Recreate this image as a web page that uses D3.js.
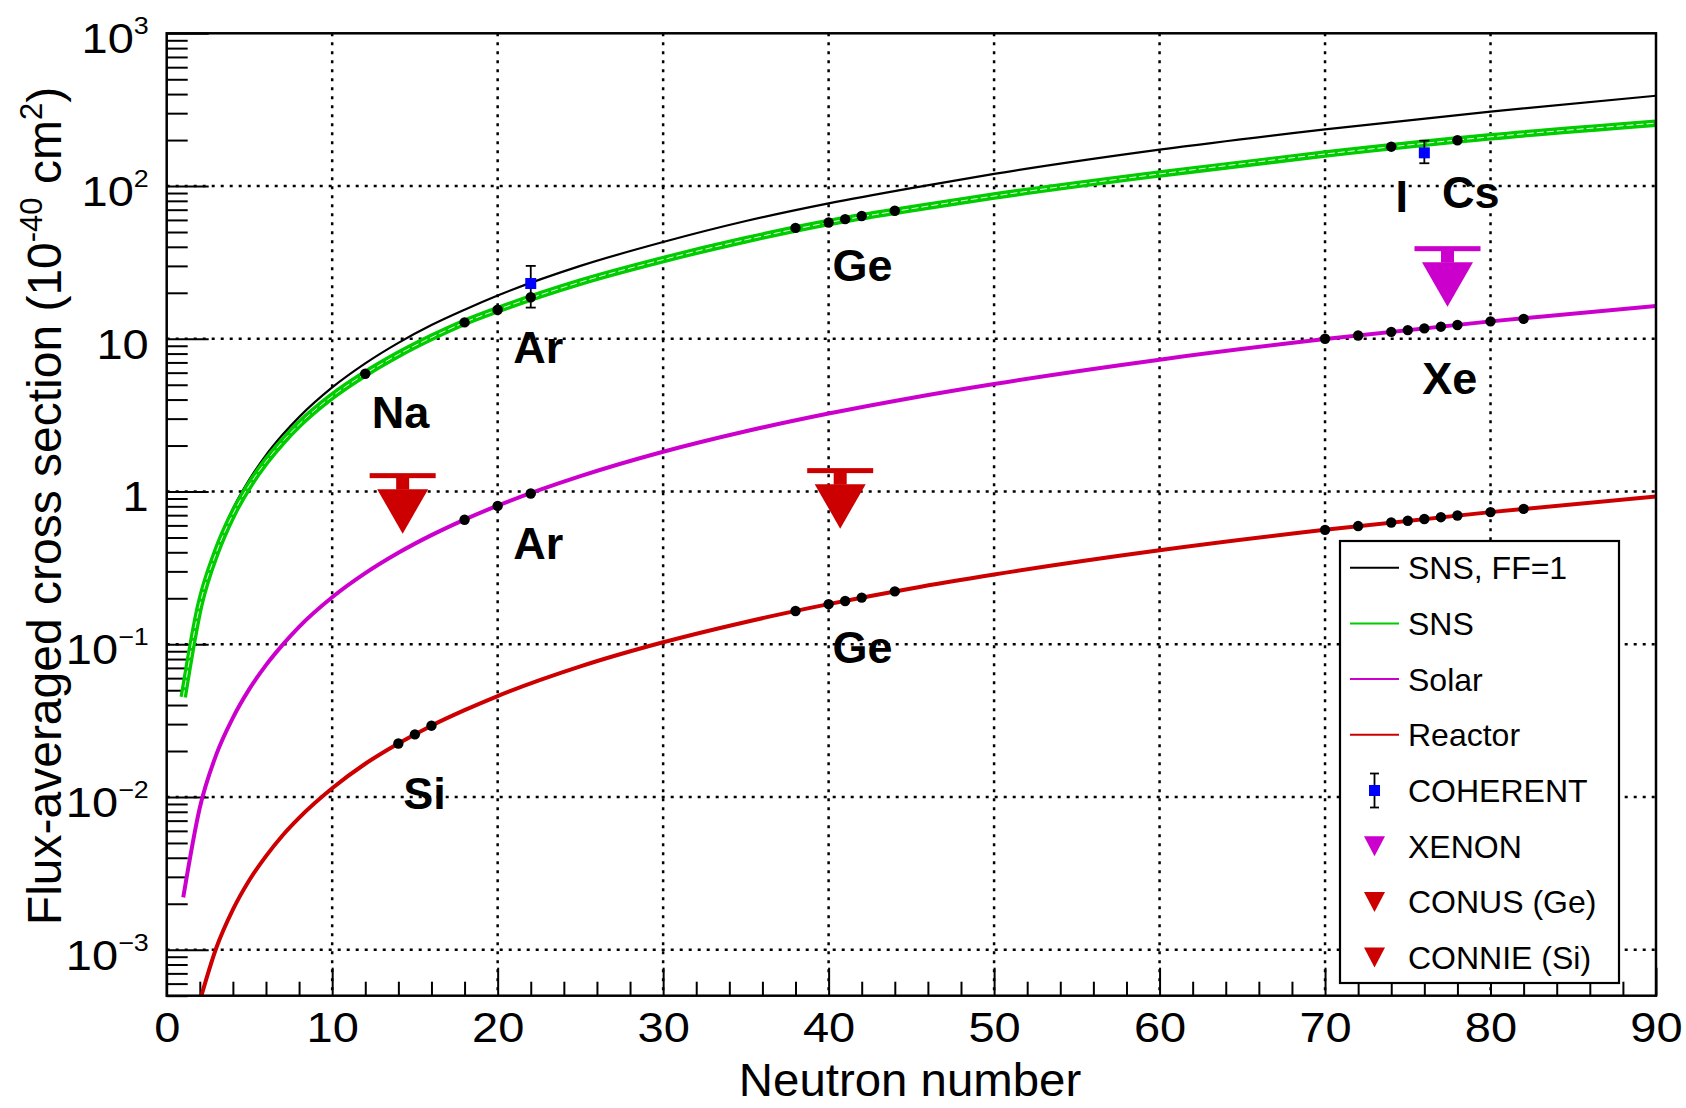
<!DOCTYPE html>
<html>
<head>
<meta charset="utf-8">
<script src="https://cdn.jsdelivr.net/npm/d3@7"></script>
<style>
  body { margin: 0; background: #fff; }
  text { font-family: "Liberation Sans", Arial, Helvetica, sans-serif; }
</style>
</head>
<body>
<div id="chart"></div>
<script>
// Flux-averaged CEvNS cross section vs neutron number

// curve samples (neutron number, cross section in 1e-40 cm2)
const curveN = [1, 2, 3, 4, 5, 6, 7, 8, 10, 12, 14, 16, 18, 20, 25, 30, 35, 40, 45, 50, 60, 70, 80, 90];
const snsFF1 = [0.048, 0.19, 0.43, 0.77, 1.2, 1.73, 2.35, 3.07, 4.8, 6.9, 9.4, 12.3, 15.5, 19.2, 30, 43, 59, 77, 97, 120, 173, 235, 307, 390];
const snsFF = [0.045, 0.18, 0.40, 0.71, 1.1, 1.57, 2.12, 2.75, 4.2, 5.9, 7.9, 10.2, 12.8, 15.5, 23.5, 33, 44.5, 57.7, 71, 86, 120, 162, 210, 258];
const solar = [0.0022, 0.0085, 0.019, 0.033, 0.051, 0.073, 0.099, 0.13, 0.203, 0.292, 0.397, 0.518, 0.655, 0.808, 1.26, 1.82, 2.48, 3.24, 4.1, 5.06, 7.3, 9.95, 13.0, 16.4];
const reactorN = [2, 3, 4, 5, 6, 7, 8, 10, 12, 14, 16, 18, 20, 25, 30, 35, 40, 45, 50, 60, 70, 80, 90];
const reactor = [0.00046, 0.00103, 0.00183, 0.00286, 0.0041, 0.0056, 0.0073, 0.0114, 0.0165, 0.0224, 0.0293, 0.037, 0.0458, 0.0716, 0.103, 0.14, 0.183, 0.232, 0.286, 0.412, 0.561, 0.733, 0.927];

// isotope points on the curves
const snsDotN = [12, 18, 20, 22, 38, 40, 41, 42, 44, 74, 78];
const snsDotV = [5.9, 12.8, 15.5, 18.7, 53.2, 57.7, 60.7, 63.7, 68.9, 181, 199.5];
const solarDotN = [18, 20, 22, 70, 72, 74, 75, 76, 77, 78, 80, 82];
const solarDotV = [0.653, 0.805, 0.97, 10.0, 10.5, 11.1, 11.4, 11.7, 12.0, 12.3, 13.0, 13.5];
const reactorDotN = [14, 15, 16, 38, 40, 41, 42, 44, 70, 72, 74, 75, 76, 77, 78, 80, 82];
const reactorDotV = [0.0224, 0.0257, 0.0293, 0.165, 0.183, 0.192, 0.202, 0.222, 0.561, 0.594, 0.627, 0.644, 0.661, 0.679, 0.697, 0.733, 0.770];

// COHERENT measurements (Ar, CsI)
const cohN = [22, 76];
const cohV = [23, 165];
const cohLo = [16, 141];
const cohHi = [30, 198];

// upper limits
const limitNames = ["XENON", "CONUS (Ge)", "CONNIE (Si)"];
const limitN = [77.4, 40.7, 14.26];
const limitV = [38.9, 1.37, 1.27];

// isotope labels
const labelText = ["Na", "Ar", "Ar", "Ge", "Ge", "I", "Cs", "Xe", "Si"];
const labelN = [12.39, 20.94, 20.94, 40.24, 40.24, 74.26, 77.07, 75.87, 14.3];
const labelV = [2.6, 6.92, 0.361, 23.9, 0.0757, 67.7, 71.9, 4.36, 0.00838];

const xMajor = [0, 10, 20, 30, 40, 50, 60, 70, 80, 90];
const yMajor = [1e-3, 1e-2, 1e-1, 1, 10, 100, 1000];
const legendLabels = ["SNS, FF=1", "SNS", "Solar", "Reactor", "COHERENT", "XENON", "CONUS (Ge)", "CONNIE (Si)"];

const W = 1686, H = 1108;
const GREEN = "#00cc00", MAGENTA = "#cc00cc", RED = "#cc0000", BLUE = "#0000ff";

const x = d3.scaleLinear().domain([0, 90]).range([166.7, 1656]);
const y = d3.scaleLog().domain([5e-4, 1e3]).range([995.7, 33.3]);

const svg = d3.select("#chart").append("svg")
    .attr("width", W)
    .attr("height", H)
    .style("background", "#fff");

svg.append("defs").append("clipPath").attr("id", "plotclip")
  .append("rect")
    .attr("x", x(0)).attr("y", y(1e3))
    .attr("width", x(90) - x(0)).attr("height", y(5e-4) - y(1e3));

// grid
const grid = svg.append("g");
grid.selectAll("line.vg")
  .data(xMajor.filter(d => d > 0 && d < 90))
  .join("line")
    .attr("x1", d => x(d)).attr("x2", d => x(d))
    .attr("y1", y(1e3)).attr("y2", y(5e-4))
    .attr("stroke", "#000").attr("stroke-width", 2.5).attr("stroke-dasharray", "3,6");
grid.selectAll("line.hg")
  .data(yMajor.filter(d => d < 1000))
  .join("line")
    .attr("x1", x(0)).attr("x2", x(90))
    .attr("y1", d => y(d)).attr("y2", d => y(d))
    .attr("stroke", "#000").attr("stroke-width", 2.5).attr("stroke-dasharray", "3,6");

// axes
const xMinor = x.ticks(45).filter(d => d % 10 !== 0);
svg.append("g")
    .attr("transform", `translate(0,${y(5e-4)})`)
    .call(d3.axisBottom(x).tickValues(xMinor).tickSizeInner(-14).tickSizeOuter(0).tickFormat(""))
    .call(g => g.select(".domain").remove())
    .selectAll("line").attr("stroke-width", 2);
const xAxisG = svg.append("g")
    .attr("transform", `translate(0,${y(5e-4)})`)
    .call(d3.axisBottom(x).tickValues(xMajor).tickSizeInner(-28).tickSizeOuter(0).tickPadding(16));
xAxisG.select(".domain").remove();
xAxisG.selectAll("line").attr("stroke-width", 2);
xAxisG.selectAll("text")
    .attr("font-size", 42)
    .attr("font-family", "Liberation Sans, Arial, sans-serif")
    .attr("fill", "#000")
    .attr("transform", "scale(1.12,1)");

const yMinor = y.ticks().filter(d => !yMajor.some(m => Math.abs(m - d) / m < 1e-6));
svg.append("g")
    .attr("transform", `translate(${x(0)},0)`)
    .call(d3.axisLeft(y).tickValues(yMinor).tickSizeInner(-21).tickSizeOuter(0).tickFormat(""))
    .call(g => g.select(".domain").remove())
    .selectAll("line").attr("stroke-width", 2);
const yAxisG = svg.append("g")
    .attr("transform", `translate(${x(0)},0)`)
    .call(d3.axisLeft(y).tickValues(yMajor).tickSizeInner(-42).tickSizeOuter(0).tickPadding(16));
yAxisG.select(".domain").remove();
yAxisG.selectAll("line").attr("stroke-width", 2);
yAxisG.selectAll("text")
    .attr("font-size", 42)
    .attr("font-family", "Liberation Sans, Arial, sans-serif")
    .attr("fill", "#000")
    .attr("dy", "0.46em")
    .attr("transform", "scale(1.12,1)")
    .each(function(d) {
      const t = d3.select(this).text(null);
      const e = Math.round(Math.log10(d));
      if (e === 0) { t.text("1"); return; }
      if (e === 1) { t.text("10"); return; }
      t.append("tspan").text("10");
      t.append("tspan").attr("dy", -19).attr("font-size", 24)
        .text(e < 0 ? "\u2212" + (-e) : String(e));
    });

// axis titles
svg.append("text")
    .attr("x", 910).attr("y", 1096)
    .attr("text-anchor", "middle")
    .attr("font-size", 46)
    .attr("transform", "translate(910,0) scale(1.03,1) translate(-910,0)")
    .text("Neutron number");

const yTitle = svg.append("text")
    .attr("transform", "translate(61,506) rotate(-90)")
    .attr("text-anchor", "middle")
    .attr("font-size", 48);
yTitle.append("tspan").text("Flux-averaged cross section (10");
yTitle.append("tspan").attr("dy", -19).attr("font-size", 31).text("-40");
yTitle.append("tspan").attr("dy", 19).text(" cm");
yTitle.append("tspan").attr("dy", -19).attr("font-size", 31).text("2");
yTitle.append("tspan").attr("dy", 19).text(")");

// curves
const plot = svg.append("g").attr("clip-path", "url(#plotclip)");
const line = d3.line()
    .x(d => x(d[0]))
    .y(d => y(d[1]))
    .curve(d3.curveMonotoneX);

plot.append("path")
    .datum(curveN.map((n, i) => [n, snsFF1[i]]))
    .attr("d", line).attr("fill", "none").attr("stroke", "#000").attr("stroke-width", 2.2);
const snsPts = curveN.map((n, i) => [n, snsFF[i]]);
plot.append("path")
    .datum(snsPts)
    .attr("d", line).attr("fill", "none").attr("stroke", GREEN).attr("stroke-width", 7.5);
plot.append("path")
    .datum(snsPts)
    .attr("d", line).attr("fill", "none").attr("stroke", "#e8ffe8").attr("stroke-width", 1)
    .attr("stroke-dasharray", "7,3");
plot.append("path")
    .datum(curveN.map((n, i) => [n, solar[i]]))
    .attr("d", line).attr("fill", "none").attr("stroke", MAGENTA).attr("stroke-width", 4);
plot.append("path")
    .datum(reactorN.map((n, i) => [n, reactor[i]]))
    .attr("d", line).attr("fill", "none").attr("stroke", RED).attr("stroke-width", 4);

// isotope dots
const dots = [].concat(
  snsDotN.map((n, i) => [n, snsDotV[i]]),
  solarDotN.map((n, i) => [n, solarDotV[i]]),
  reactorDotN.map((n, i) => [n, reactorDotV[i]])
);
plot.selectAll("circle.iso")
  .data(dots)
  .join("circle")
    .attr("cx", d => x(d[0])).attr("cy", d => y(d[1])).attr("r", 5.2)
    .attr("fill", "#000");

// COHERENT points
const coh = svg.append("g");
cohN.forEach((n, i) => {
  const cx = x(n);
  coh.append("line").attr("x1", cx).attr("x2", cx).attr("y1", y(cohLo[i])).attr("y2", y(cohHi[i]))
    .attr("stroke", "#000").attr("stroke-width", 1.8);
  [cohLo[i], cohHi[i]].forEach(v => {
    coh.append("line").attr("x1", cx - 5).attr("x2", cx + 5).attr("y1", y(v)).attr("y2", y(v))
      .attr("stroke", "#000").attr("stroke-width", 1.8);
  });
  coh.append("rect").attr("x", cx - 5.5).attr("y", y(cohV[i]) - 5.5).attr("width", 11).attr("height", 11)
    .attr("fill", BLUE);
});

// upper-limit arrows
function limitArrow(g, cx, by, color) {
  g.append("rect").attr("x", cx - 33).attr("y", by - 2.5).attr("width", 66).attr("height", 5).attr("fill", color);
  g.append("rect").attr("x", cx - 6.5).attr("y", by).attr("width", 13).attr("height", 14).attr("fill", color);
  g.append("path")
    .attr("d", `M${cx - 25.5},${by + 13.5}L${cx + 25.5},${by + 13.5}L${cx},${by + 58}Z`)
    .attr("fill", color);
}
const limitColors = [MAGENTA, RED, RED];
const arrows = svg.append("g");
limitN.forEach((n, i) => limitArrow(arrows, x(n), y(limitV[i]), limitColors[i]));

// isotope labels
svg.append("g").selectAll("text")
  .data(labelText)
  .join("text")
    .attr("x", (d, i) => x(labelN[i]))
    .attr("y", (d, i) => y(labelV[i]))
    .attr("font-size", 45)
    .attr("font-weight", "bold")
    .text(d => d);

// frame
svg.append("rect")
    .attr("x", x(0)).attr("y", y(1e3))
    .attr("width", x(90) - x(0)).attr("height", y(5e-4) - y(1e3))
    .attr("fill", "none").attr("stroke", "#000").attr("stroke-width", 2.5);

// legend
const lg = svg.append("g");
lg.append("rect")
    .attr("x", 1340).attr("y", 541).attr("width", 279).attr("height", 442)
    .attr("fill", "#fff").attr("stroke", "#000").attr("stroke-width", 2.2);
const rowY = i => 567.7 + i * 55.7;
const lineColors = ["#000", GREEN, MAGENTA, RED];
lineColors.forEach((c, i) => {
  lg.append("line").attr("x1", 1350).attr("x2", 1399).attr("y1", rowY(i)).attr("y2", rowY(i))
    .attr("stroke", c).attr("stroke-width", 2);
});
{
  const cy = rowY(4), cx = 1374.5;
  lg.append("line").attr("x1", cx).attr("x2", cx).attr("y1", cy - 17).attr("y2", cy + 17).attr("stroke", "#000").attr("stroke-width", 1.8);
  lg.append("line").attr("x1", cx - 4.5).attr("x2", cx + 4.5).attr("y1", cy - 17).attr("y2", cy - 17).attr("stroke", "#000").attr("stroke-width", 1.8);
  lg.append("line").attr("x1", cx - 4.5).attr("x2", cx + 4.5).attr("y1", cy + 17).attr("y2", cy + 17).attr("stroke", "#000").attr("stroke-width", 1.8);
  lg.append("rect").attr("x", cx - 5.5).attr("y", cy - 5.5).attr("width", 11).attr("height", 11).attr("fill", BLUE);
}
limitColors.forEach((c, i) => {
  const cy = rowY(5 + i), cx = 1374.5;
  lg.append("path").attr("d", `M${cx - 10.5},${cy - 10}L${cx + 10.5},${cy - 10}L${cx},${cy + 10}Z`).attr("fill", c);
});
lg.selectAll("text.lab")
  .data(legendLabels)
  .join("text")
    .attr("x", 1408)
    .attr("y", (d, i) => rowY(i) + 11.5)
    .attr("font-size", 32)
    .text(d => d);
</script>
</body>
</html>
